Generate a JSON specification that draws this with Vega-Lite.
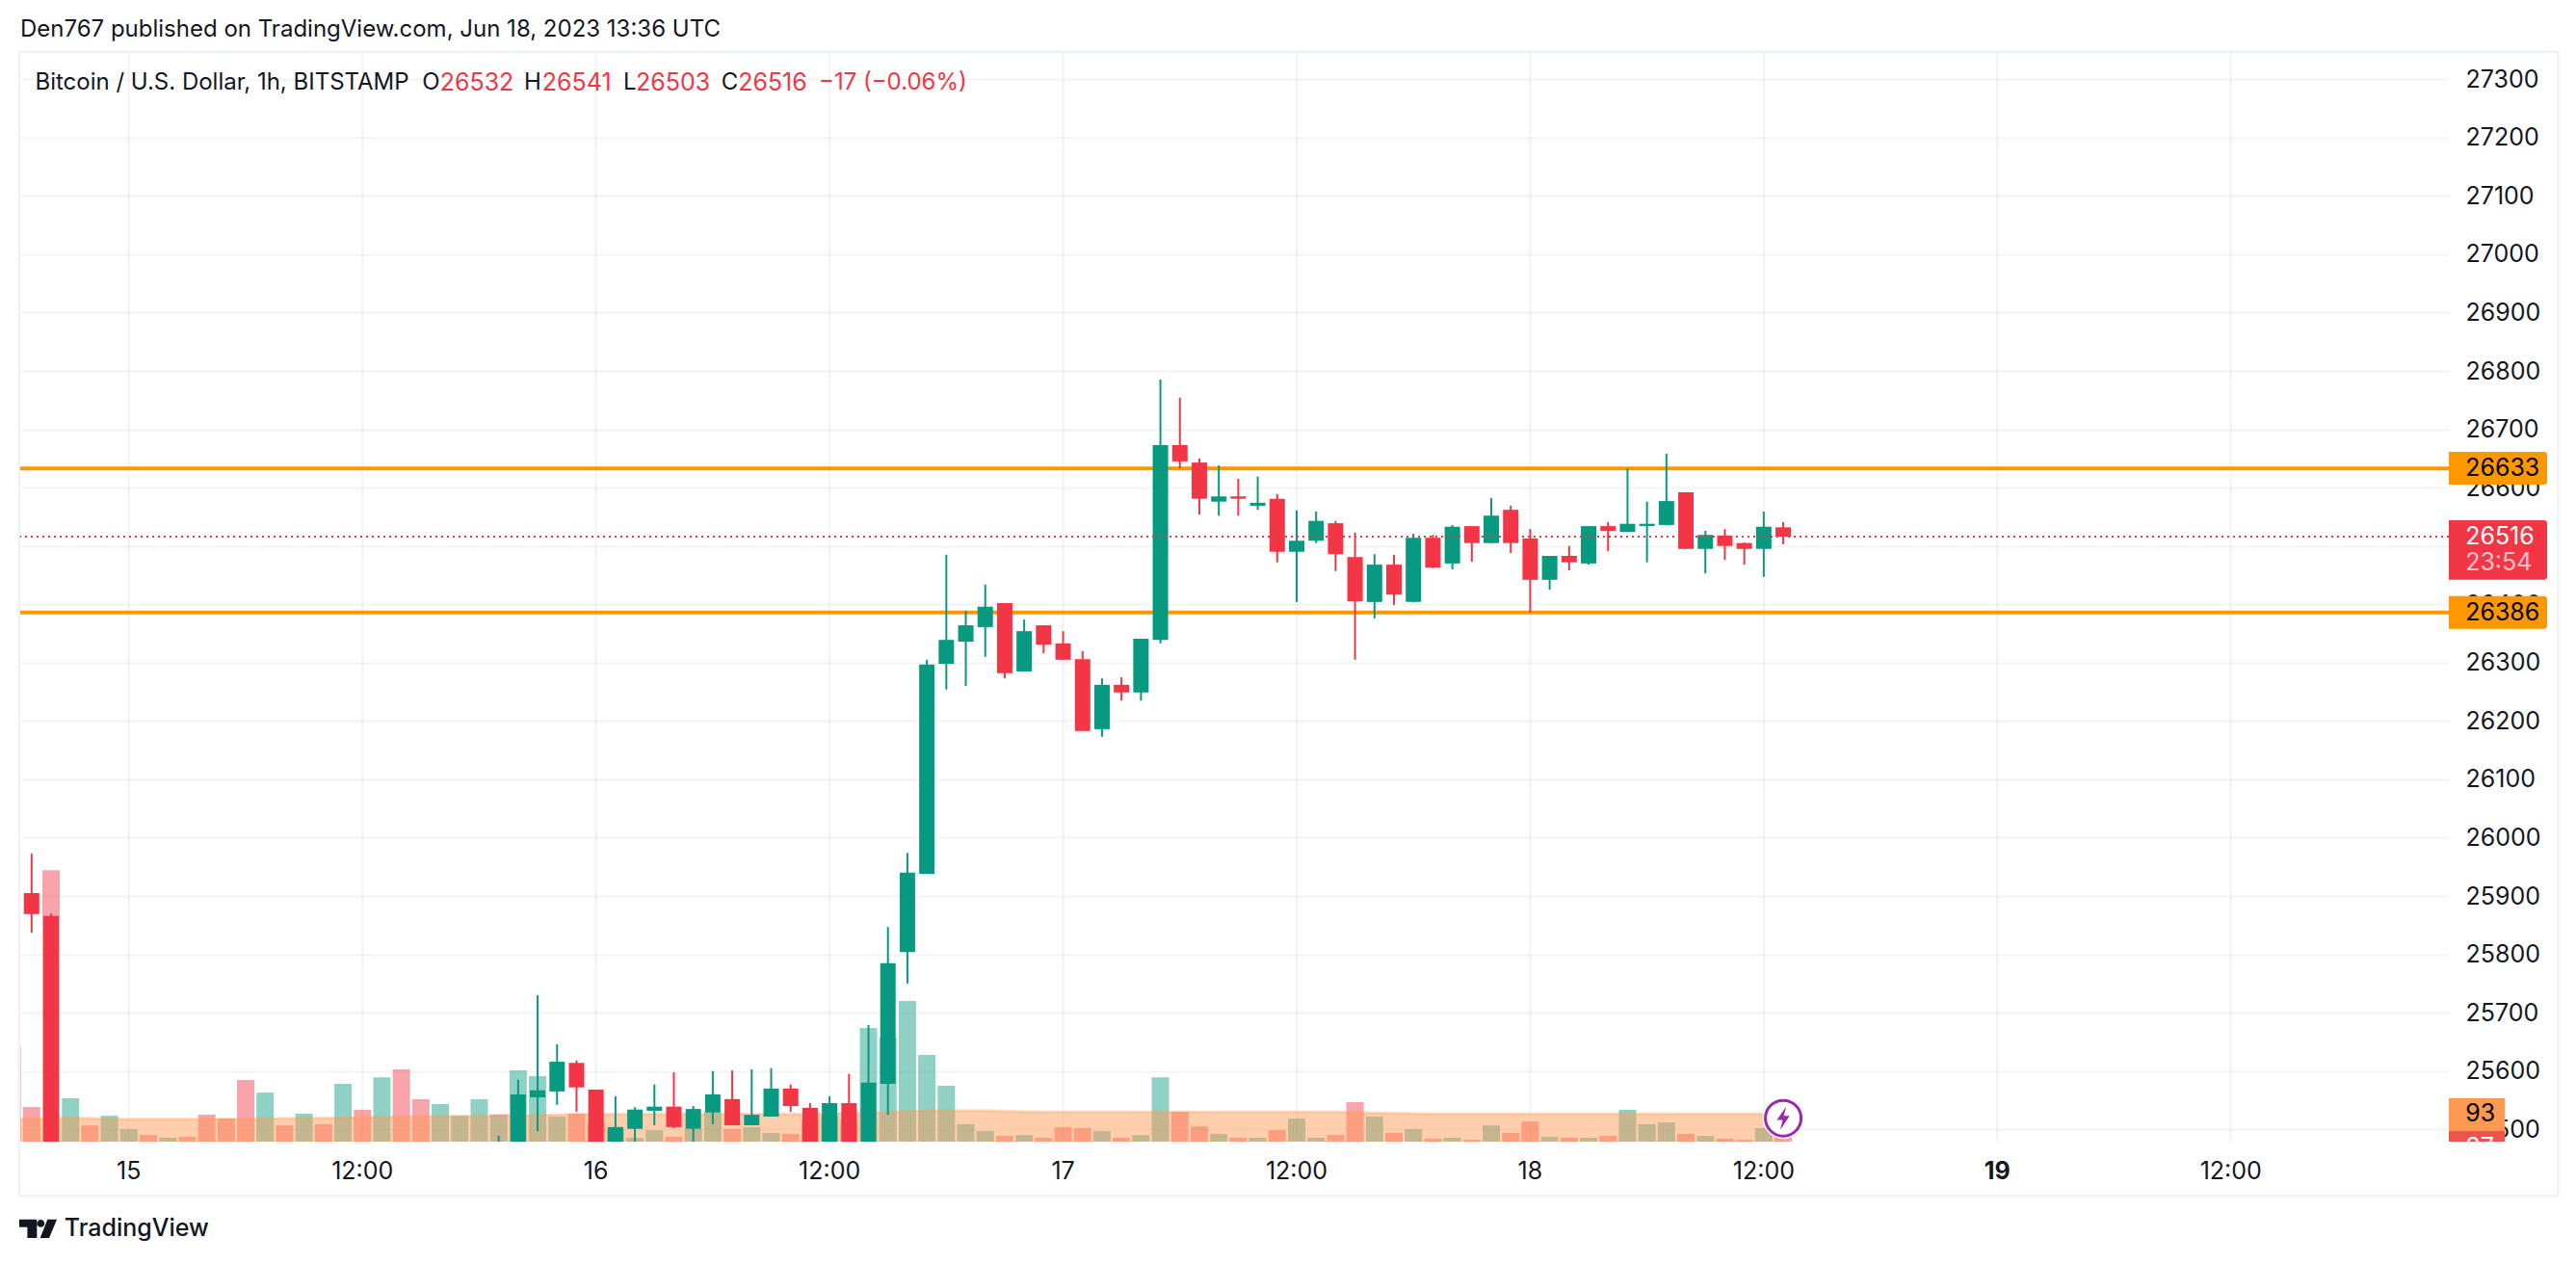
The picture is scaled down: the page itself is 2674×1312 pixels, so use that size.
{
  "$schema": "https://vega.github.io/schema/vega-lite/v6.json",
  "title": {"text": "Den767 published on TradingView.com, Jun 18, 2023 13:36 UTC", "anchor": "start", "frame": "group", "font": "Inter", "fontSize": 24, "fontWeight": 400, "color": "#131722", "offset": 9},
  "width": 2521,
  "height": 1130,
  "autosize": {"type": "none"},
  "padding": {"left": 21, "top": 55, "right": 132, "bottom": 127},
  "background": "#ffffff",
  "config": {
    "view": {"stroke": null},
    "axis": {"gridColor": "#2a2e39", "gridOpacity": 0.06, "gridWidth": 2, "domain": false, "ticks": false, "title": null, "labelFont": "Inter", "labelFontSize": 25, "labelColor": "#131722"}
  },
  "datasets": {
    "bars": [
      {"t":"2023-06-14T18:00:00Z","volume":315,"ma":75},
      {"t":"2023-06-14T19:00:00Z","open":25905,"high":25973,"low":25837,"close":25869,"volume":115,"ma":75},
      {"t":"2023-06-14T20:00:00Z","open":25866,"high":25870,"low":25250,"close":25300,"volume":902,"ma":76},
      {"t":"2023-06-14T21:00:00Z","volume":144,"ma":80,"up":true},
      {"t":"2023-06-14T22:00:00Z","volume":54,"ma":78},
      {"t":"2023-06-14T23:00:00Z","volume":86,"ma":76,"up":true},
      {"t":"2023-06-15T00:00:00Z","volume":42,"ma":75,"up":true},
      {"t":"2023-06-15T01:00:00Z","volume":22,"ma":75},
      {"t":"2023-06-15T02:00:00Z","volume":13,"ma":75,"up":true},
      {"t":"2023-06-15T03:00:00Z","volume":16,"ma":75},
      {"t":"2023-06-15T04:00:00Z","volume":90,"ma":75},
      {"t":"2023-06-15T05:00:00Z","volume":77,"ma":75},
      {"t":"2023-06-15T06:00:00Z","volume":205,"ma":76},
      {"t":"2023-06-15T07:00:00Z","volume":163,"ma":77,"up":true},
      {"t":"2023-06-15T08:00:00Z","volume":54,"ma":78},
      {"t":"2023-06-15T09:00:00Z","volume":93,"ma":78,"up":true},
      {"t":"2023-06-15T10:00:00Z","volume":58,"ma":79},
      {"t":"2023-06-15T11:00:00Z","volume":192,"ma":80,"up":true},
      {"t":"2023-06-15T12:00:00Z","volume":106,"ma":81},
      {"t":"2023-06-15T13:00:00Z","volume":214,"ma":82,"up":true},
      {"t":"2023-06-15T14:00:00Z","volume":240,"ma":83},
      {"t":"2023-06-15T15:00:00Z","volume":141,"ma":84},
      {"t":"2023-06-15T16:00:00Z","volume":125,"ma":85,"up":true},
      {"t":"2023-06-15T17:00:00Z","volume":86,"ma":85,"up":true},
      {"t":"2023-06-15T18:00:00Z","volume":141,"ma":86,"up":true},
      {"t":"2023-06-15T19:00:00Z","open":25420,"high":25489,"low":25400,"close":25450,"volume":90,"ma":87,"up":true},
      {"t":"2023-06-15T20:00:00Z","open":25440,"high":25585,"low":25400,"close":25560,"volume":237,"ma":88,"up":true},
      {"t":"2023-06-15T21:00:00Z","open":25555,"high":25730,"low":25497,"close":25567,"volume":218,"ma":89,"up":true},
      {"t":"2023-06-15T22:00:00Z","open":25565,"high":25646,"low":25542,"close":25616,"volume":83,"ma":90,"up":true},
      {"t":"2023-06-15T23:00:00Z","open":25614,"high":25618,"low":25530,"close":25572,"volume":93,"ma":91},
      {"t":"2023-06-16T00:00:00Z","open":25568,"high":25568,"low":25460,"close":25470,"volume":64,"ma":91},
      {"t":"2023-06-16T01:00:00Z","open":25470,"high":25557,"low":25460,"close":25504,"volume":40,"ma":92,"up":true},
      {"t":"2023-06-16T02:00:00Z","open":25501,"high":25538,"low":25477,"close":25534,"volume":13,"ma":92,"up":true},
      {"t":"2023-06-16T03:00:00Z","open":25532,"high":25577,"low":25507,"close":25539,"volume":38,"ma":92,"up":true},
      {"t":"2023-06-16T04:00:00Z","open":25539,"high":25598,"low":25502,"close":25504,"volume":16,"ma":92},
      {"t":"2023-06-16T05:00:00Z","open":25501,"high":25540,"low":25477,"close":25535,"volume":42,"ma":92,"up":true},
      {"t":"2023-06-16T06:00:00Z","open":25529,"high":25600,"low":25509,"close":25560,"volume":99,"ma":92,"up":true},
      {"t":"2023-06-16T07:00:00Z","open":25552,"high":25601,"low":25507,"close":25507,"volume":42,"ma":92},
      {"t":"2023-06-16T08:00:00Z","open":25507,"high":25603,"low":25507,"close":25525,"volume":48,"ma":92,"up":true},
      {"t":"2023-06-16T09:00:00Z","open":25522,"high":25605,"low":25522,"close":25570,"volume":29,"ma":92,"up":true},
      {"t":"2023-06-16T10:00:00Z","open":25570,"high":25577,"low":25530,"close":25540,"volume":26,"ma":92},
      {"t":"2023-06-16T11:00:00Z","open":25537,"high":25545,"low":25470,"close":25470,"volume":69,"ma":93},
      {"t":"2023-06-16T12:00:00Z","open":25470,"high":25557,"low":25470,"close":25545,"volume":85,"ma":94,"up":true},
      {"t":"2023-06-16T13:00:00Z","open":25545,"high":25595,"low":25470,"close":25470,"volume":69,"ma":95},
      {"t":"2023-06-16T14:00:00Z","open":25470,"high":25679,"low":25470,"close":25580,"volume":378,"ma":96,"up":true},
      {"t":"2023-06-16T15:00:00Z","open":25578,"high":25847,"low":25525,"close":25785,"volume":346,"ma":98,"up":true},
      {"t":"2023-06-16T16:00:00Z","open":25804,"high":25974,"low":25750,"close":25940,"volume":467,"ma":102,"up":true},
      {"t":"2023-06-16T17:00:00Z","open":25938,"high":26305,"low":25938,"close":26297,"volume":288,"ma":103,"up":true},
      {"t":"2023-06-16T18:00:00Z","open":26298,"high":26485,"low":26254,"close":26339,"volume":186,"ma":103,"up":true},
      {"t":"2023-06-16T19:00:00Z","open":26336,"high":26389,"low":26260,"close":26364,"volume":58,"ma":103,"up":true},
      {"t":"2023-06-16T20:00:00Z","open":26361,"high":26434,"low":26310,"close":26396,"volume":35,"ma":103,"up":true},
      {"t":"2023-06-16T21:00:00Z","open":26402,"high":26402,"low":26273,"close":26282,"volume":19,"ma":102},
      {"t":"2023-06-16T22:00:00Z","open":26285,"high":26374,"low":26285,"close":26354,"volume":22,"ma":100,"up":true},
      {"t":"2023-06-16T23:00:00Z","open":26364,"high":26364,"low":26316,"close":26331,"volume":13,"ma":99},
      {"t":"2023-06-17T00:00:00Z","open":26333,"high":26354,"low":26305,"close":26305,"volume":48,"ma":99},
      {"t":"2023-06-17T01:00:00Z","open":26306,"high":26320,"low":26183,"close":26183,"volume":45,"ma":99},
      {"t":"2023-06-17T02:00:00Z","open":26186,"high":26273,"low":26173,"close":26262,"volume":35,"ma":99,"up":true},
      {"t":"2023-06-17T03:00:00Z","open":26262,"high":26275,"low":26235,"close":26249,"volume":13,"ma":99},
      {"t":"2023-06-17T04:00:00Z","open":26249,"high":26341,"low":26235,"close":26341,"volume":22,"ma":99,"up":true},
      {"t":"2023-06-17T05:00:00Z","open":26339,"high":26785,"low":26333,"close":26673,"volume":214,"ma":99,"up":true},
      {"t":"2023-06-17T06:00:00Z","open":26673,"high":26754,"low":26633,"close":26645,"volume":99,"ma":99},
      {"t":"2023-06-17T07:00:00Z","open":26643,"high":26650,"low":26554,"close":26581,"volume":51,"ma":99},
      {"t":"2023-06-17T08:00:00Z","open":26576,"high":26638,"low":26552,"close":26585,"volume":26,"ma":99,"up":true},
      {"t":"2023-06-17T09:00:00Z","open":26585,"high":26615,"low":26552,"close":26581,"volume":13,"ma":99},
      {"t":"2023-06-17T10:00:00Z","open":26569,"high":26619,"low":26562,"close":26574,"volume":13,"ma":99,"up":true},
      {"t":"2023-06-17T11:00:00Z","open":26581,"high":26589,"low":26472,"close":26490,"volume":38,"ma":99},
      {"t":"2023-06-17T12:00:00Z","open":26490,"high":26561,"low":26404,"close":26509,"volume":77,"ma":99,"up":true},
      {"t":"2023-06-17T13:00:00Z","open":26509,"high":26559,"low":26505,"close":26543,"volume":13,"ma":99,"up":true},
      {"t":"2023-06-17T14:00:00Z","open":26539,"high":26543,"low":26457,"close":26486,"volume":22,"ma":99},
      {"t":"2023-06-17T15:00:00Z","open":26481,"high":26523,"low":26305,"close":26405,"volume":131,"ma":98},
      {"t":"2023-06-17T16:00:00Z","open":26404,"high":26486,"low":26376,"close":26468,"volume":83,"ma":96,"up":true},
      {"t":"2023-06-17T17:00:00Z","open":26468,"high":26485,"low":26399,"close":26417,"volume":29,"ma":95},
      {"t":"2023-06-17T18:00:00Z","open":26404,"high":26521,"low":26404,"close":26514,"volume":42,"ma":94,"up":true},
      {"t":"2023-06-17T19:00:00Z","open":26514,"high":26519,"low":26462,"close":26463,"volume":10,"ma":93},
      {"t":"2023-06-17T20:00:00Z","open":26470,"high":26536,"low":26460,"close":26533,"volume":13,"ma":93,"up":true},
      {"t":"2023-06-17T21:00:00Z","open":26534,"high":26534,"low":26473,"close":26505,"volume":6,"ma":93},
      {"t":"2023-06-17T22:00:00Z","open":26505,"high":26582,"low":26505,"close":26552,"volume":54,"ma":93,"up":true},
      {"t":"2023-06-17T23:00:00Z","open":26562,"high":26569,"low":26488,"close":26505,"volume":29,"ma":93},
      {"t":"2023-06-18T00:00:00Z","open":26513,"high":26529,"low":26386,"close":26442,"volume":67,"ma":93},
      {"t":"2023-06-18T01:00:00Z","open":26442,"high":26483,"low":26425,"close":26483,"volume":16,"ma":93,"up":true},
      {"t":"2023-06-18T02:00:00Z","open":26483,"high":26500,"low":26458,"close":26472,"volume":13,"ma":93},
      {"t":"2023-06-18T03:00:00Z","open":26470,"high":26534,"low":26468,"close":26534,"volume":13,"ma":93,"up":true},
      {"t":"2023-06-18T04:00:00Z","open":26534,"high":26541,"low":26491,"close":26526,"volume":19,"ma":93},
      {"t":"2023-06-18T05:00:00Z","open":26524,"high":26633,"low":26524,"close":26538,"volume":106,"ma":93,"up":true},
      {"t":"2023-06-18T06:00:00Z","open":26534,"high":26576,"low":26472,"close":26538,"volume":58,"ma":93,"up":true},
      {"t":"2023-06-18T07:00:00Z","open":26536,"high":26658,"low":26536,"close":26577,"volume":64,"ma":93,"up":true},
      {"t":"2023-06-18T08:00:00Z","open":26592,"high":26592,"low":26495,"close":26495,"volume":26,"ma":93},
      {"t":"2023-06-18T09:00:00Z","open":26495,"high":26526,"low":26453,"close":26519,"volume":19,"ma":93,"up":true},
      {"t":"2023-06-18T10:00:00Z","open":26518,"high":26529,"low":26476,"close":26500,"volume":10,"ma":93},
      {"t":"2023-06-18T11:00:00Z","open":26505,"high":26506,"low":26468,"close":26495,"volume":6,"ma":93},
      {"t":"2023-06-18T12:00:00Z","open":26495,"high":26559,"low":26447,"close":26533,"volume":45,"ma":93,"up":true},
      {"t":"2023-06-18T13:00:00Z","open":26532,"high":26541,"low":26503,"close":26516,"volume":87,"ma":93}
    ],
    "levels": [{"price": 26633}, {"price": 26386}],
    "last": [{"price": 26516}],
    "frame": [{"from": "2023-06-14T18:22:00Z", "to": "2023-06-20T04:48:00Z", "top": 27347, "bottom": 25386}],
    "timeTicks": [
      {"t": "2023-06-15T00:00:00Z", "price": 25428, "label": "15"},
      {"t": "2023-06-15T12:00:00Z", "price": 25428, "label": "12:00"},
      {"t": "2023-06-16T00:00:00Z", "price": 25428, "label": "16"},
      {"t": "2023-06-16T12:00:00Z", "price": 25428, "label": "12:00"},
      {"t": "2023-06-17T00:00:00Z", "price": 25428, "label": "17"},
      {"t": "2023-06-17T12:00:00Z", "price": 25428, "label": "12:00"},
      {"t": "2023-06-18T00:00:00Z", "price": 25428, "label": "18"},
      {"t": "2023-06-18T12:00:00Z", "price": 25428, "label": "12:00"},
      {"t": "2023-06-19T00:00:00Z", "price": 25428, "label": "19", "bold": true},
      {"t": "2023-06-19T12:00:00Z", "price": 25428, "label": "12:00"}
    ],
    "priceTags": [
      {"from": "2023-06-19T23:12:00Z", "to": "2023-06-20T04:15:00Z", "top": 26661.5, "bottom": 26605, "kind": "level"},
      {"from": "2023-06-19T23:12:00Z", "to": "2023-06-20T04:15:00Z", "top": 26544, "bottom": 26442, "kind": "last"},
      {"from": "2023-06-19T23:12:00Z", "to": "2023-06-20T04:15:00Z", "top": 26414, "bottom": 26358, "kind": "level"}
    ],
    "legendText": [
      {"t": "2023-06-14T19:11:00Z", "price": 27294, "label": "Bitcoin / U.S. Dollar, 1h, BITSTAMP"},
      {"t": "2023-06-15T15:04:00Z", "price": 27294, "label": "O"},
      {"t": "2023-06-15T20:18:00Z", "price": 27294, "label": "H"},
      {"t": "2023-06-16T01:24:00Z", "price": 27294, "label": "L"},
      {"t": "2023-06-16T06:26:00Z", "price": 27294, "label": "C"}
    ],
    "priceText": [
      {"t": "2023-06-15T15:59:00Z", "price": 27294, "label": "26532", "kind": "red"},
      {"t": "2023-06-15T21:14:00Z", "price": 27294, "label": "26541", "kind": "red"},
      {"t": "2023-06-16T02:03:00Z", "price": 27294, "label": "26503", "kind": "red"},
      {"t": "2023-06-16T07:18:00Z", "price": 27294, "label": "26516", "kind": "red"},
      {"t": "2023-06-20T00:03:00Z", "price": 26633, "label": "26633", "kind": "black"},
      {"t": "2023-06-20T00:03:00Z", "price": 26516, "label": "26516", "kind": "white"},
      {"t": "2023-06-20T00:03:00Z", "price": 26472, "label": "23:54", "kind": "pink"},
      {"t": "2023-06-20T00:03:00Z", "price": 26386, "label": "26386", "kind": "black"}
    ],
    "changeText": [{"t": "2023-06-16T11:27:00Z", "price": 27294, "label": "−17 (−0.06%)"}],
    "brandText": [{"t": "2023-06-14T20:41:00Z", "price": 25330, "label": "TradingView"}],
    "brandLogo": [{"t": "2023-06-14T19:20:00Z", "price": 25330}],
    "volTags": [
      {"from": "2023-06-19T23:12:00Z", "to": "2023-06-20T02:05:00Z", "top": 144, "bottom": 35, "kind": "ma"},
      {"from": "2023-06-19T23:12:00Z", "to": "2023-06-20T02:05:00Z", "top": 35, "bottom": 0, "kind": "volume"}
    ],
    "volText": [
      {"t": "2023-06-20T00:03:00Z", "vol": 92, "label": "93", "kind": "black"},
      {"t": "2023-06-20T00:03:00Z", "vol": -19, "label": "87", "kind": "white"}
    ],
    "volMask": [{"from": "2023-06-19T23:12:00Z", "to": "2023-06-20T02:05:00Z", "top": 0, "bottom": -50}],
    "marker": [{"t": "2023-06-18T13:00:00Z", "vol": 78}]
  },
  "layer": [
    {
      "layer": [
        {
          "data": {"name": "frame"},
          "mark": {"type": "rect", "fill": null, "stroke": "#f0f3fa", "strokeWidth": 3},
          "encoding": {
            "x": {
              "field": "from",
              "type": "temporal",
              "scale": {
                "type": "utc",
                "padding": 0,
                "domain": [
                  {"year": 2023, "month": 6, "date": 14, "hours": 18, "minutes": 25, "utc": true},
                  {"year": 2023, "month": 6, "date": 19, "hours": 23, "minutes": 12, "utc": true}
                ]
              },
              "axis": null
            },
            "x2": {"field": "to"},
            "y": {
              "field": "top",
              "type": "quantitative",
              "scale": {"domain": [25479, 27345], "nice": false, "zero": false},
              "axis": {
                "orient": "right",
                "values": [25500, 25600, 25700, 25800, 25900, 26000, 26100, 26200, 26300, 26400, 26500, 26600, 26700, 26800, 26900, 27000, 27100, 27200, 27300],
                "format": "d",
                "labelPadding": 17,
                "labelAlign": "left",
                "labelOverlap": false,
                "labelFlush": false,
                "grid": true
              }
            },
            "y2": {"field": "bottom"}
          }
        },
        {
          "data": {"name": "timeTicks"},
          "mark": {"type": "rule", "color": "#2a2e39", "opacity": 0.06, "strokeWidth": 2},
          "encoding": {"x": {"field": "t", "type": "temporal", "axis": null}}
        }
      ]
    },
    {
      "layer": [
        {
          "data": {"name": "bars"},
          "mark": {"type": "bar", "size": 18, "opacity": 0.45, "clip": true},
          "encoding": {
            "x": {"field": "t", "type": "temporal", "axis": null},
            "y": {"field": "volume", "type": "quantitative", "stack": null, "scale": {"domain": [0, 3616], "nice": false}, "axis": null},
            "color": {"condition": {"test": "datum.up", "value": "#089981"}, "value": "#F23645"}
          }
        },
        {
          "data": {"name": "bars"},
          "mark": {"type": "area", "color": "#FF9850", "opacity": 0.47, "clip": true},
          "encoding": {
            "x": {"field": "t", "type": "temporal", "axis": null},
            "y": {"field": "ma", "type": "quantitative", "stack": null, "axis": null}
          }
        },
        {
          "data": {"name": "bars"},
          "mark": {"type": "line", "color": "#FF9850", "opacity": 0.3, "strokeWidth": 3, "clip": true},
          "encoding": {
            "x": {"field": "t", "type": "temporal", "axis": null},
            "y": {"field": "ma", "type": "quantitative", "axis": null}
          }
        },
        {
          "data": {"name": "volTags"},
          "mark": {"type": "rect"},
          "encoding": {
            "x": {"field": "from", "type": "temporal", "axis": null},
            "x2": {"field": "to"},
            "y": {"field": "top", "type": "quantitative", "axis": null},
            "y2": {"field": "bottom"},
            "color": {"field": "kind", "type": "nominal", "legend": null, "scale": {"domain": ["ma", "volume"], "range": ["#FF9850", "#EF5350"]}}
          }
        },
        {
          "data": {"name": "volText"},
          "mark": {"type": "text", "align": "left", "baseline": "middle", "font": "Inter", "fontSize": 25},
          "encoding": {
            "x": {"field": "t", "type": "temporal", "axis": null},
            "y": {"field": "vol", "type": "quantitative", "axis": null},
            "text": {"field": "label"},
            "fill": {"field": "kind", "type": "nominal", "legend": null, "scale": {"domain": ["black", "white"], "range": ["#000000", "#ffffff"]}}
          }
        },
        {
          "data": {"name": "volMask"},
          "mark": {"type": "rect", "fill": "#ffffff"},
          "encoding": {
            "x": {"field": "from", "type": "temporal", "axis": null},
            "x2": {"field": "to"},
            "y": {"field": "top", "type": "quantitative", "axis": null},
            "y2": {"field": "bottom"}
          }
        }
      ]
    },
    {
      "layer": [
        {
          "data": {"name": "levels"},
          "mark": {"type": "rule", "color": "#FF9800", "strokeWidth": 4},
          "encoding": {"y": {"field": "price", "type": "quantitative", "scale": {"domain": [25479, 27345], "nice": false, "zero": false}, "axis": null}}
        },
        {
          "data": {"name": "bars"},
          "mark": {"type": "rule", "strokeWidth": 2, "clip": true},
          "encoding": {
            "x": {"field": "t", "type": "temporal", "axis": null},
            "y": {"field": "low", "type": "quantitative", "axis": null},
            "y2": {"field": "high"},
            "color": {"condition": {"test": "datum.close >= datum.open", "value": "#089981"}, "value": "#F23645"}
          }
        },
        {
          "data": {"name": "bars"},
          "mark": {"type": "bar", "size": 16, "clip": true},
          "encoding": {
            "x": {"field": "t", "type": "temporal", "axis": null},
            "y": {"field": "open", "type": "quantitative", "axis": null},
            "y2": {"field": "close"},
            "color": {"condition": {"test": "datum.close >= datum.open", "value": "#089981"}, "value": "#F23645"}
          }
        },
        {
          "data": {"name": "last"},
          "mark": {"type": "rule", "color": "#F23645", "strokeWidth": 2, "strokeDash": [2, 4]},
          "encoding": {"y": {"field": "price", "type": "quantitative", "axis": null}}
        },
        {
          "data": {"name": "priceTags"},
          "mark": {"type": "rect", "cornerRadiusTopRight": 3, "cornerRadiusBottomRight": 3},
          "encoding": {
            "x": {"field": "from", "type": "temporal", "axis": null},
            "x2": {"field": "to"},
            "y": {"field": "top", "type": "quantitative", "axis": null},
            "y2": {"field": "bottom"},
            "color": {"field": "kind", "type": "nominal", "legend": null, "scale": {"domain": ["level", "last"], "range": ["#FF9800", "#F23645"]}}
          }
        },
        {
          "data": {"name": "timeTicks"},
          "transform": [{"filter": "!datum.bold"}],
          "mark": {"type": "text", "align": "center", "baseline": "middle", "font": "Inter", "fontSize": 25, "color": "#131722"},
          "encoding": {
            "x": {"field": "t", "type": "temporal", "axis": null},
            "y": {"field": "price", "type": "quantitative", "axis": null},
            "text": {"field": "label"}
          }
        },
        {
          "data": {"name": "timeTicks"},
          "transform": [{"filter": "datum.bold"}],
          "mark": {"type": "text", "align": "center", "baseline": "middle", "font": "Inter", "fontSize": 25, "fontWeight": 700, "color": "#131722"},
          "encoding": {
            "x": {"field": "t", "type": "temporal", "axis": null},
            "y": {"field": "price", "type": "quantitative", "axis": null},
            "text": {"field": "label"}
          }
        },
        {
          "data": {"name": "legendText"},
          "mark": {"type": "text", "align": "left", "baseline": "middle", "font": "Inter", "fontSize": 24, "color": "#131722"},
          "encoding": {
            "x": {"field": "t", "type": "temporal", "axis": null},
            "y": {"field": "price", "type": "quantitative", "axis": null},
            "text": {"field": "label"}
          }
        },
        {
          "data": {"name": "changeText"},
          "mark": {"type": "text", "align": "left", "baseline": "middle", "font": "Inter", "fontSize": 24, "color": "#F23645"},
          "encoding": {
            "x": {"field": "t", "type": "temporal", "axis": null},
            "y": {"field": "price", "type": "quantitative", "axis": null},
            "text": {"field": "label"}
          }
        },
        {
          "data": {"name": "priceText"},
          "mark": {"type": "text", "align": "left", "baseline": "middle", "font": "Inter", "fontSize": 25},
          "encoding": {
            "x": {"field": "t", "type": "temporal", "axis": null},
            "y": {"field": "price", "type": "quantitative", "axis": null},
            "text": {"field": "label"},
            "fill": {"field": "kind", "type": "nominal", "legend": null, "scale": {"domain": ["red", "black", "white", "pink"], "range": ["#F23645", "#000000", "#ffffff", "#fbc3c8"]}}
          }
        },
        {
          "data": {"name": "brandText"},
          "mark": {"type": "text", "align": "left", "baseline": "middle", "font": "Inter", "fontSize": 25, "fontWeight": 500, "color": "#131722"},
          "encoding": {
            "x": {"field": "t", "type": "temporal", "axis": null},
            "y": {"field": "price", "type": "quantitative", "axis": null},
            "text": {"field": "label"}
          }
        },
        {
          "data": {"name": "brandLogo"},
          "mark": {
            "type": "point",
            "filled": true,
            "opacity": 1,
            "size": 1521,
            "color": "#131722",
            "shape": "M-1,-.48 L-.06,-.48 L-.06,.5 L-.57,.5 L-.57,-.07 L-1,-.07 Z M-.055,-.27 A.2,.2 0 1,0 .345,-.27 A.2,.2 0 1,0 -.055,-.27 Z M.5,-.48 L1,-.48 L.59,.5 L.11,.5 Z"
          },
          "encoding": {
            "x": {"field": "t", "type": "temporal", "axis": null},
            "y": {"field": "price", "type": "quantitative", "axis": null}
          }
        }
      ]
    },
    {
      "data": {"name": "marker"},
      "layer": [
        {
          "mark": {"type": "point", "filled": true, "opacity": 1, "shape": "circle", "size": 1849, "color": "#ffffff"}
        },
        {
          "mark": {"type": "point", "shape": "circle", "size": 1369, "fill": "#ffffff", "stroke": "#9C27B0", "strokeWidth": 3, "opacity": 1}
        },
        {
          "mark": {"type": "point", "filled": true, "opacity": 1, "size": 576, "color": "#9C27B0", "shape": "M.25,-1 L-.55,.15 L-.05,.15 L-.25,1 L.55,-.2 L.05,-.2 Z"}
        }
      ],
      "encoding": {
        "x": {"field": "t", "type": "temporal", "axis": null},
        "y": {"field": "vol", "type": "quantitative", "scale": {"domain": [0, 3616], "nice": false}, "axis": null}
      }
    }
  ],
  "resolve": {"scale": {"y": "independent", "color": "independent", "fill": "independent"}}
}
